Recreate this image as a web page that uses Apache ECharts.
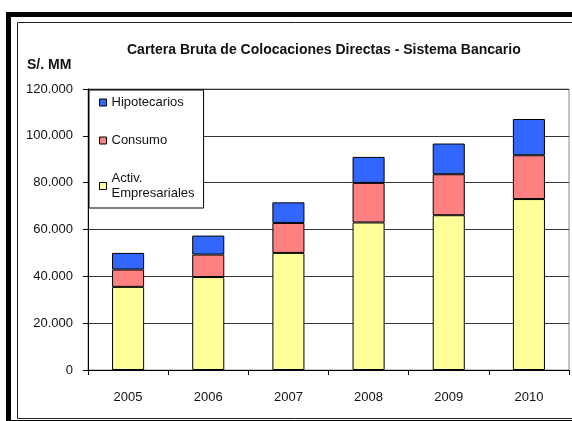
<!DOCTYPE html>
<html>
<head>
<meta charset="utf-8">
<script src="https://cdn.jsdelivr.net/npm/echarts@6/dist/echarts.min.js"></script>
<style>
html,body{margin:0;padding:0;background:#fff;}
#c{width:572px;height:421px;}
</style>
</head>
<body>
<div id="c"></div>
<script>
var categories = ['2005', '2006', '2007', '2008', '2009', '2010'];
var activEmpresariales = [35500, 39700, 50000, 63000, 66100, 73000];
var consumo = [7400, 9600, 12800, 16900, 17500, 18700];
var hipotecarios = [7100, 8100, 8800, 11100, 13100, 15500];
var yTicks = [0, 20000, 40000, 60000, 80000, 100000, 120000];

var FONT = 'Liberation Sans, Arial, sans-serif';
function fmt(v) {
  return String(v).replace(/\B(?=(\d{3})+(?!\d))/g, '.');
}

var chart = echarts.init(document.getElementById('c'), null, {renderer: 'canvas'});
chart.setOption({
  animation: false,
  backgroundColor: '#fff',
  textStyle: {fontFamily: FONT},
  title: [
    {text: 'Cartera Bruta de Colocaciones Directas - Sistema Bancario', left: 122, top: 38,
     textStyle: {fontFamily: FONT, fontSize: 14, fontWeight: 'bold', color: '#111'}},
    {text: 'S/. MM', left: 22, top: 53,
     textStyle: {fontFamily: FONT, fontSize: 14, fontWeight: 'bold', color: '#111'}}
  ],
  graphic: [
    {type: 'rect', shape: {x: 8.5, y: 14.5, width: 600, height: 408}, style: {fill: null, stroke: '#000', lineWidth: 5}, silent: true},
    {type: 'rect', shape: {x: 17.5, y: 22.5, width: 600, height: 396}, style: {fill: null, stroke: '#222', lineWidth: 1}, silent: true}
  ],
  grid: {left: 88, right: 3, top: 89, bottom: 51, show: true, borderColor: '#888', borderWidth: 1, backgroundColor: 'transparent'},
  legend: {
    orient: 'vertical', left: 89, top: 90,
    data: ['Hipotecarios', 'Consumo', 'Activ. Empresariales'],
    icon: 'rect', itemWidth: 7, itemHeight: 7, itemGap: 23,
    padding: [5, 9, 7, 10],
    backgroundColor: '#fff', borderColor: '#000', borderWidth: 1, borderRadius: 0,
    itemStyle: {borderColor: '#000', borderWidth: 1},
    textStyle: {fontFamily: FONT, fontSize: 13, color: '#111', lineHeight: 15},
    formatter: function (n) { return n === 'Activ. Empresariales' ? 'Activ.\nEmpresariales' : n; },
    selectedMode: false
  },
  xAxis: {
    type: 'category', data: categories,
    axisLine: {lineStyle: {color: '#000', width: 1}},
    axisTick: {show: true, length: 5, lineStyle: {color: '#000'}},
    axisLabel: {margin: 21, fontFamily: FONT, fontSize: 13, color: '#111'}
  },
  yAxis: {
    type: 'value', min: 0, max: 120000, interval: 20000,
    axisLine: {show: true, lineStyle: {color: '#000', width: 1}},
    axisTick: {show: true, length: 5, lineStyle: {color: '#000'}},
    axisLabel: {margin: 15, fontFamily: FONT, fontSize: 13, color: '#111',
      formatter: function (v) { return yTicks.indexOf(v) >= 0 ? fmt(v) : ''; }},
    splitLine: {show: true, lineStyle: {color: '#333', width: 1}}
  },
  series: [
    {name: 'Activ. Empresariales', type: 'bar', stack: 'a', data: activEmpresariales, barWidth: '40%',
     itemStyle: {color: '#FFFF99', borderColor: '#000', borderWidth: 1}},
    {name: 'Consumo', type: 'bar', stack: 'a', data: consumo, barWidth: '40%',
     itemStyle: {color: '#FF8080', borderColor: '#000', borderWidth: 1}},
    {name: 'Hipotecarios', type: 'bar', stack: 'a', data: hipotecarios, barWidth: '40%',
     itemStyle: {color: '#3366FF', borderColor: '#000', borderWidth: 1}}
  ]
});
</script>
</body>
</html>
